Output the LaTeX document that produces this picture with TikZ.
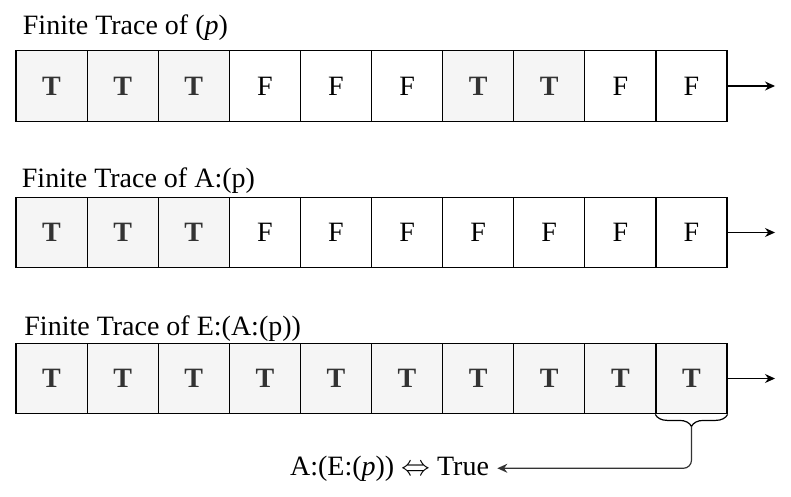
\documentclass[tikz,border=0pt]{standalone}
\usepackage{fontspec}
\setmainfont{Liberation Serif}
\usetikzlibrary{positioning}
\usetikzlibrary{arrows.meta,shapes}
\usetikzlibrary{decorations.pathreplacing}
\definecolor{cellgray}{HTML}{F5F5F5}
\definecolor{txtgray}{HTML}{333333}
\tikzstyle{cell}=[rectangle,draw=black,line width=0.6pt,minimum width=35.55pt,minimum height=35.3pt,inner sep=0pt,font=\fontsize{14}{16}\selectfont]
\tikzstyle{tcell}=[cell,fill=cellgray,text=txtgray,font=\fontsize{14}{16}\selectfont\bfseries]
\tikzstyle{fcell}=[cell,fill=white]
\tikzstyle{title}=[anchor=base west,inner sep=0pt,font=\fontsize{14}{16}\selectfont]
\tikzstyle{edge}=[draw,line width=0.6pt,-{Stealth[length=5pt,width=4.5pt]}]

\begin{document}
\begin{tikzpicture}[x=0.5pt,y=-0.5pt]

  \useasboundingbox (0,0) rectangle (791,497);

  % row 1 : (p)
  \node[title] (ta) at (22.5,35) {Finite Trace of (\textit{p})};
  \foreach \x/\name in {1/a1, 2/a2, 3/a3, 7/a7, 8/a8}
      \node[tcell] (\name) at (\x*71.1-19.55, 86) {T};
  \foreach \x/\name in {4/a4, 5/a5, 6/a6, 9/a9, 10/a10}
      \node[fcell] (\name) at (\x*71.1-19.55, 86) {F};
  \coordinate (aend) at (775,86);
  \draw[edge] (a10) -- (aend);

  % row 2 : A:(p)
  \node[title] (tb) at (21.5,188) {Finite Trace of A:(p)};
  \foreach \x/\name in {1/b1, 2/b2, 3/b3}
      \node[tcell] (\name) at (\x*71.1-19.55, 232.5) {T};
  \foreach \x/\name in {4/b4, 5/b5, 6/b6, 7/b7, 8/b8, 9/b9, 10/b10}
      \node[fcell] (\name) at (\x*71.1-19.55, 232.5) {F};
  \coordinate (bend) at (775,232.5);
  \draw[edge] (b10) -- (bend);

  % row 3 : E:(A:(p))
  \node[title] (tc) at (24,335) {Finite Trace of E:(A:(p))};
  \foreach \x in {1,...,10}
      \node[tcell] (c\x) at (\x*71.1-19.55, 378.5) {T};
  \coordinate (cend) at (775,378.5);
  \draw[edge] (c10) -- (cend);

  % brace on the last cell
  \draw[line width=0.6pt,decorate,decoration={brace,mirror,amplitude=6pt}]
       (c10.south west) -- (c10.south east);
  \coordinate (tip) at ([yshift=-6pt]c10.south);

  \node[inner sep=4pt,font=\fontsize{14}{16}\selectfont,anchor=base] (res) at (389.5,475)
       {A:(E:(\textit{p})) $\Leftrightarrow$ True};
  \draw[edge,black!80,rounded corners=4pt] (tip) |- (res.east);

\end{tikzpicture}
\end{document}
